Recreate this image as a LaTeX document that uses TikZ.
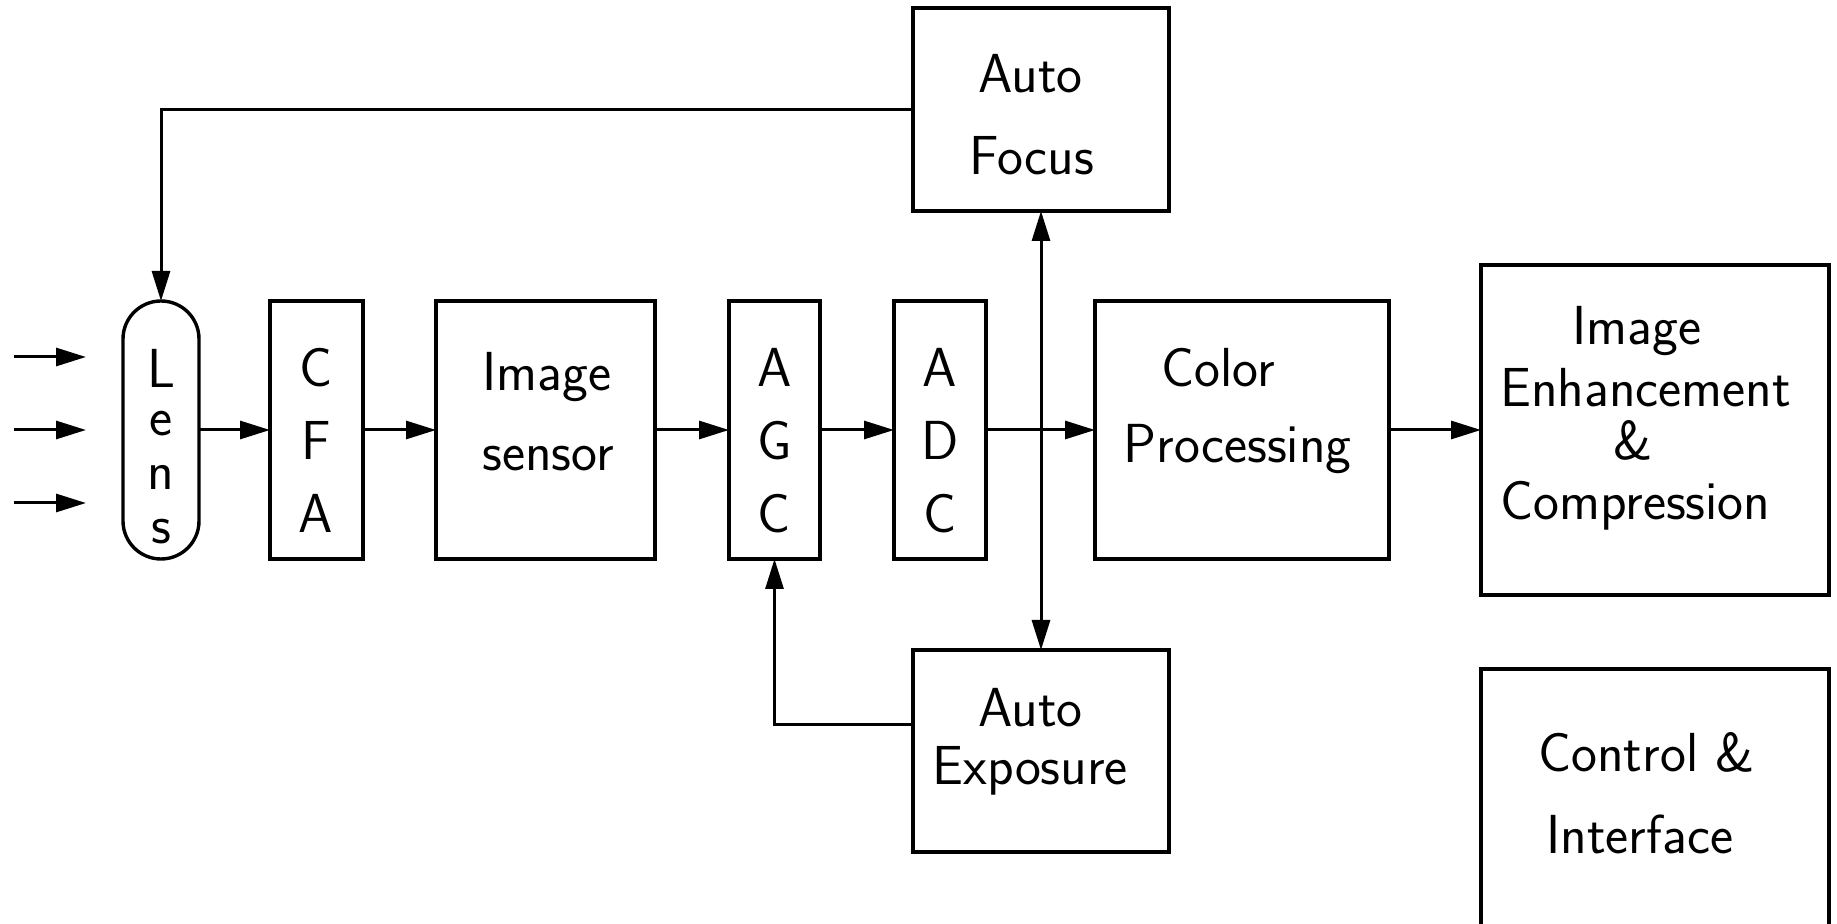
\documentclass[tikz,border=0pt]{standalone}
\usepackage{fontspec}
\usetikzlibrary{arrows.meta,fit}
\begin{document}
\begin{tikzpicture}[x=0.5pt,y=-0.5pt,
  blk/.style={draw,line width=1.7pt,inner sep=0pt,outer sep=0pt},
  lbl/.style={font=\fontsize{27.5}{32}\selectfont\sffamily,inner sep=0pt,anchor=base west},
  ltr/.style={font=\fontsize{27.5}{32}\selectfont\sffamily,inner sep=0pt,anchor=base},
  tip/.tip={Triangle[length=15pt,width=9pt]},
  arr/.style={-tip,line width=1.5pt},
  dbl/.style={tip-tip,line width=1.5pt}]
\useasboundingbox (0,0) rectangle (1837,924);
\clip (0,0) rectangle (1837,924);

% blocks
\node[blk,rounded corners=19pt,fit={(123,301)(199,559)}] (lens) {};
\node[blk,fit={(270,301)(363,559)}] (cfa) {};
\node[blk,fit={(436,301)(655,559)}] (sensor) {};
\node[blk,fit={(729,301)(820,559)}] (agc) {};
\node[blk,fit={(894,301)(986,559)}] (adc) {};
\node[blk,fit={(1095,301)(1389,559)}] (cp) {};
\node[blk,fit={(1481,265)(1829,595)}] (ie) {};
\node[blk,fit={(1481,669)(1829,960)}] (ci) {};
\node[blk,fit={(913,8)(1169,211)}] (af) {};
\node[blk,fit={(913,650)(1169,852)}] (ae) {};

% vertical letter labels
\node[font=\fontsize{27.5}{27}\selectfont\sffamily,inner sep=0pt,align=center,anchor=center]
  (lenstxt) at (161,446.5) {L\\[-3pt]e\\n\\s};
\foreach \t/\y [count=\i] in {C/387,F/460,A/533}
  \node[ltr] (cfa\i) at (316,\y) {\t};
\foreach \t/\y [count=\i] in {A/387,G/460,C/533}
  \node[ltr] (agc\i) at (774.5,\y) {\t};
\foreach \t/\y [count=\i] in {A/387,D/460,C/533}
  \node[ltr] (adc\i) at (940,\y) {\t};

% block labels
\node[lbl] (t1) at (482,391) {Image};
\node[lbl] (t2) at (482,471) {sensor};
\node[lbl] (t3) at (1161,387) {Color};
\node[lbl] (t4) at (1123,463) {Processing};
\node[lbl] (t5) at (1572,345) {Image};
\node[lbl] (t6) at (1500,407) {Enhancement};
\node[lbl] (t7) at (1613,460) {\&};
\node[lbl] (t8) at (1500,520) {Compression};
\node[lbl] (t9) at (1538,771) {Control \&};
\node[lbl] (t10) at (1546,853) {Interface};
\node[lbl] (t11) at (978,93) {Auto};
\node[lbl] (t12) at (969,175) {Focus};
\node[lbl] (t13) at (978,726) {Auto};
\node[lbl] (t14) at (932,784) {Exposure};

% incoming light
\foreach \y [count=\i] in {357,430,503}{
  \coordinate (in\i) at (14,\y);
  \coordinate (to\i) at (86,\y);
  \draw[arr] (in\i) -- (to\i);
}

% signal chain
\draw[arr] (lens.east) -- (cfa.west);
\draw[arr] (cfa.east) -- (sensor.west);
\draw[arr] (sensor.east) -- (agc.west);
\draw[arr] (agc.east) -- (adc.west);
\draw[arr] (adc.east) -- (cp.west);
\draw[arr] (cp.east) -- (ie.west);

% control loops
\draw[arr] (af.west) -| (lens.north);
\draw[arr] ([yshift=13.5pt]ae.west) -| (agc.south);
\draw[dbl] (af.south) -- (ae.north);
\end{tikzpicture}
\end{document}
